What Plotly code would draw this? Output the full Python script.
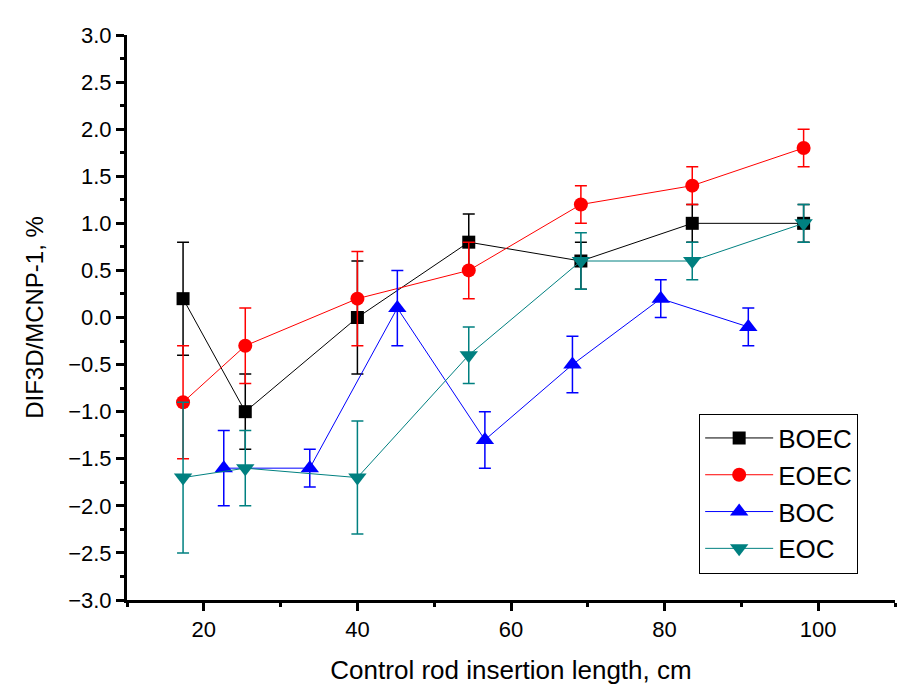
import plotly.graph_objects as go

# ---- data ----
x_main = [17.3, 25.4, 40.0, 54.5, 69.1, 83.6, 98.1]
x_boc = [22.6, 33.8, 45.2, 56.6, 68.0, 79.5, 90.9]

boec_y = [0.2, -1.0, 0.0, 0.8, 0.6, 1.0, 1.0]
boec_err_plus = [0.6, 0.4, 0.6, 0.3, 0.2, 0.2, 0.2]
boec_err_minus = [0.6, 0.4, 0.6, 0.3, 0.3, 0.2, 0.2]

eoec_y = [-0.9, -0.3, 0.2, 0.5, 1.2, 1.4, 1.8]
eoec_err = [0.6, 0.4, 0.5, 0.3, 0.2, 0.2, 0.2]

boc_y = [-1.6, -1.6, 0.1, -1.3, -0.5, 0.2, -0.1]
boc_err = [0.4, 0.2, 0.4, 0.3, 0.3, 0.2, 0.2]

eoc_y = [-1.7, -1.6, -1.7, -0.4, 0.6, 0.6, 1.0]
eoc_err = [0.8, 0.4, 0.6, 0.3, 0.3, 0.2, 0.2]

x_ticks = [20, 40, 60, 80, 100]
y_ticks = [-3.0, -2.5, -2.0, -1.5, -1.0, -0.5, 0.0, 0.5, 1.0, 1.5, 2.0, 2.5, 3.0]

FONT = "Arial, Liberation Sans, sans-serif"

series = [
    ("BOEC", x_main, boec_y, boec_err_plus, boec_err_minus, "#000000", "square", 13),
    ("EOEC", x_main, eoec_y, eoec_err, eoec_err, "#FF0000", "circle", 14),
    ("BOC", x_boc, boc_y, boc_err, boc_err, "#0000FF", "triangle-up", 16),
    ("EOC", x_main, eoc_y, eoc_err, eoc_err, "#008080", "triangle-down", 16),
]

fig = go.Figure()
for name, xs, ys, ep, em, col, sym, sz in series:
    fig.add_trace(go.Scatter(
        x=xs, y=ys, name=name, mode="lines+markers",
        line=dict(color=col, width=1),
        marker=dict(symbol=sym, size=sz, color=col),
        error_y=dict(type="data", array=ep, arrayminus=em, symmetric=False,
                     color=col, thickness=1.5, width=6),
    ))

axis_common = dict(showgrid=False, zeroline=False, linecolor="black", linewidth=3,
                   tickcolor="black", tickwidth=2.5)

fig.update_layout(
    width=919, height=696,
    margin=dict(l=119, r=32, t=27, b=104),
    paper_bgcolor="white", plot_bgcolor="white",
    font=dict(family=FONT, color="black"),
    showlegend=True,
    legend=dict(x=0.745, y=0.33, xanchor="left", yanchor="top",
                bordercolor="black", borderwidth=1, bgcolor="white",
                font=dict(size=26, family=FONT), tracegroupgap=0,
                itemwidth=68),
    xaxis=dict(range=[10, 110], tickvals=x_ticks, ticks="outside", ticklen=8,
               tickfont=dict(size=22), showline=True,
               minor=dict(dtick=10, tick0=0, ticks="outside", ticklen=4,
                          tickwidth=2.5, tickcolor="black"),
               title=dict(text="Control rod insertion length, cm",
                          font=dict(size=26), standoff=20),
               **axis_common),
    yaxis=dict(range=[-3, 3], tickvals=y_ticks, tickformat=".1f",
               ticks="outside", ticklen=8, tickfont=dict(size=22), showline=True,
               minor=dict(dtick=0.25, tick0=0, ticks="outside", ticklen=4,
                          tickwidth=2.5, tickcolor="black"),
               title=dict(text="DIF3D/MCNP-1, %", font=dict(size=24), standoff=18),
               **axis_common),
    xaxis2=dict(range=[10, 110], overlaying="x", side="top", anchor="y",
                tickvals=x_ticks, ticks="inside", ticklen=9, showticklabels=False,
                showline=True,
                minor=dict(dtick=10, tick0=0, ticks="inside", ticklen=4,
                           tickwidth=2.5, tickcolor="black"),
                **axis_common),
    yaxis2=dict(range=[-3, 3], overlaying="y", side="right", anchor="x",
                tickvals=y_ticks, ticks="inside", ticklen=9, showticklabels=False,
                showline=True,
                minor=dict(dtick=0.25, tick0=0, ticks="inside", ticklen=4,
                           tickwidth=2.5, tickcolor="black"),
                **axis_common),
)

fig.write_html("out.html")
